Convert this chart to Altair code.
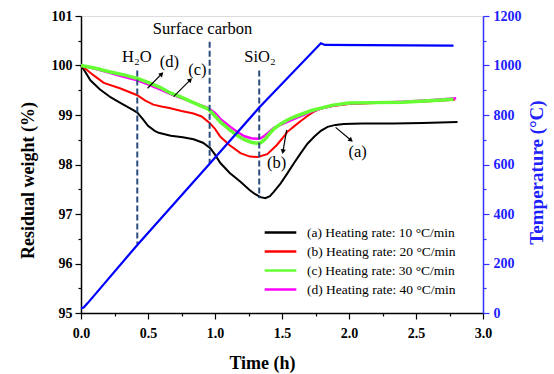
import math
import altair as alt
import pandas as pd

FONT = "Liberation Serif"

# ---------------- data ----------------
series_names = [
    "(a) Heating rate: 10 \u00b0C/min",
    "(b) Heating rate: 20 \u00b0C/min",
    "(c) Heating rate: 30 \u00b0C/min",
    "(d) Heating rate: 40 \u00b0C/min",
]
series_colors = ["#000000", "#FF0000", "#66FF33", "#FF00FF"]

t_a = [0, 0.03, 0.07, 0.14, 0.22, 0.29, 0.35, 0.39, 0.42, 0.46, 0.50, 0.55, 0.58, 0.67, 0.76,
       0.84, 0.91, 0.965, 1.00, 1.04, 1.11, 1.19, 1.26, 1.30, 1.34, 1.375, 1.41, 1.44, 1.49,
       1.54, 1.59, 1.64, 1.69, 1.74, 1.79, 1.84, 1.90, 1.96, 2.1, 2.33, 2.55, 2.81]
w_a = [100.0, 99.88, 99.70, 99.52, 99.36, 99.25, 99.16, 99.10, 99.05, 98.92, 98.78, 98.68, 98.64,
       98.58, 98.55, 98.51, 98.44, 98.33, 98.20, 98.03, 97.83, 97.65, 97.48, 97.40, 97.34, 97.32,
       97.36, 97.45, 97.62, 97.82, 98.03, 98.23, 98.42, 98.56, 98.68, 98.76, 98.80, 98.82, 98.83,
       98.83, 98.84, 98.86]

t_b = [0, 0.04, 0.09, 0.17, 0.29, 0.42, 0.48, 0.54, 0.60, 0.66, 0.75, 0.84, 0.90, 0.96, 1.00,
       1.04, 1.11, 1.19, 1.26, 1.32, 1.39, 1.46, 1.50, 1.54, 1.59, 1.64, 1.69, 1.74, 1.79, 1.88,
       2.0, 2.2, 2.4, 2.6, 2.79]
w_b = [100.0, 99.92, 99.81, 99.65, 99.54, 99.40, 99.29, 99.21, 99.17, 99.14, 99.08, 99.03, 98.97,
       98.84, 98.72, 98.56, 98.39, 98.23, 98.16, 98.15, 98.21, 98.39, 98.52, 98.66, 98.77, 98.88,
       98.98, 99.07, 99.13, 99.18, 99.22, 99.24, 99.26, 99.28, 99.31]

t_c = [0, 0.1, 0.22, 0.32, 0.42, 0.50, 0.59, 0.67, 0.74, 0.83, 0.89, 0.95, 1.00, 1.04, 1.11,
       1.17, 1.22, 1.27, 1.31, 1.34, 1.37, 1.40, 1.44, 1.49, 1.54, 1.60, 1.66, 1.72, 1.79, 1.88,
       2.0, 2.2, 2.4, 2.6, 2.78]
w_c = [100.0, 99.95, 99.87, 99.81, 99.74, 99.66, 99.56, 99.44, 99.37, 99.26, 99.19, 99.12, 98.98,
       98.86, 98.70, 98.58, 98.50, 98.45, 98.43, 98.44, 98.50, 98.60, 98.72, 98.82, 98.90, 98.97,
       99.03, 99.09, 99.14, 99.20, 99.24, 99.25, 99.26, 99.29, 99.32]

t_d = [0, 0.1, 0.22, 0.32, 0.42, 0.50, 0.59, 0.67, 0.74, 0.83, 0.89, 0.95, 1.00, 1.04, 1.11,
       1.17, 1.22, 1.27, 1.31, 1.34, 1.37, 1.40, 1.44, 1.49, 1.54, 1.60, 1.66, 1.72, 1.79, 1.88,
       2.0, 2.2, 2.4, 2.6, 2.80]
w_d = [100.0, 99.94, 99.85, 99.77, 99.70, 99.62, 99.52, 99.42, 99.35, 99.26, 99.20, 99.14, 99.04,
       98.92, 98.77, 98.65, 98.57, 98.53, 98.52, 98.53, 98.58, 98.65, 98.74, 98.80, 98.86, 98.93,
       99.00, 99.07, 99.13, 99.19, 99.23, 99.25, 99.27, 99.30, 99.34]

t_temp = [0, 0.02, 0.05, 0.42, 0.955, 1.33, 1.79, 1.82, 2.78]
temp = [20, 22, 40, 275, 600, 830, 1090, 1083, 1080]

vline_x = [0.42, 0.96, 1.33]
vline_top = [99.9, 100.48, 99.9]
vline_bottom = [96.4, 98.02, 97.32]

note_text = ["Surface carbon", "H\u2082O", "SiO\u2082", "(d)", "(c)", "(b)", "(a)"]
note_x = [0.907, 0.417, 1.336, 0.66, 0.868, 1.46, 2.065]
note_y = [100.74, 100.18, 100.18, 100.08, 99.91, 98.04, 98.26]

arrow_tail_x = [0.497, 0.691, 1.535, 1.90]
arrow_tail_y = [99.54, 99.37, 98.70, 98.75]
arrow_head_x = [0.602, 0.816, 1.507, 2.015]
arrow_head_y = [99.83, 99.71, 98.26, 98.49]

# ---------------- layout ----------------
W, H = 402, 297
X_DOM = [0, 3.0]
Y_DOM = [95, 101]
T_DOM = [0, 1200]

rows = []
for name, ts, ws in zip(series_names, [t_a, t_b, t_c, t_d], [w_a, w_b, w_c, w_d]):
    for t, w in zip(ts, ws):
        rows.append({"series": name, "t": t, "w": w})
df = pd.DataFrame(rows)

df_temp = pd.DataFrame({"t": t_temp, "temp": temp})
df_vl = pd.DataFrame({"x": vline_x, "y1": vline_top, "y2": vline_bottom})
df_note = pd.DataFrame({"label": note_text, "x": note_x, "y": note_y})

sx = W / (X_DOM[1] - X_DOM[0])
sy = H / (Y_DOM[1] - Y_DOM[0])
angles = []
for tx, ty, hx, hy in zip(arrow_tail_x, arrow_tail_y, arrow_head_x, arrow_head_y):
    dxp = (hx - tx) * sx
    dyp = -(hy - ty) * sy
    angles.append(math.degrees(math.atan2(dxp, -dyp)) % 360)
df_arrow = pd.DataFrame({"tx": arrow_tail_x, "ty": arrow_tail_y,
                         "hx": arrow_head_x, "hy": arrow_head_y, "angle": angles})

x_vals = [i * 0.25 for i in range(13)]
y_vals = [95 + i * 0.5 for i in range(13)]
t_vals = [i * 100 for i in range(13)]

x_axis = alt.Axis(
    values=x_vals, title="Time (h)", grid=False, labelFlush=False,
    labelExpr="abs(datum.value*2 - round(datum.value*2)) < 1e-6 ? format(datum.value, '.1f') : ''",
    tickSize={"condition": {"test": "abs(datum.value*2 - round(datum.value*2)) < 1e-6", "value": 6}, "value": 3},
    labelFont=FONT, labelFontSize=14, labelFontWeight="bold", labelColor="black", labelPadding=7,
    titleFont=FONT, titleFontSize=18, titleFontWeight="bold", titleColor="black", titlePadding=14,
    titleX=181,
    domainColor="black", tickColor="black", domainWidth=1.5, tickWidth=1.2,
)
y_axis = alt.Axis(
    values=y_vals, title="Residual weight (%)", grid=False, labelFlush=False,
    labelExpr="abs(datum.value - round(datum.value)) < 1e-6 ? format(datum.value, 'd') : ''",
    tickSize={"condition": {"test": "abs(datum.value - round(datum.value)) < 1e-6", "value": 6}, "value": 3},
    labelFont=FONT, labelFontSize=14, labelFontWeight="bold", labelColor="black", labelPadding=3,
    titleFont=FONT, titleFontSize=18, titleFontWeight="bold", titleColor="black", titlePadding=14,
    titleY=164,
    domainColor="black", tickColor="black", domainWidth=1.5, tickWidth=1.2,
)
t_axis = alt.Axis(
    values=t_vals, title="Temperature (\u00b0C)", orient="right", grid=False, labelFlush=False,
    labelExpr="datum.value % 200 === 0 ? format(datum.value, 'd') : ''",
    tickSize={"condition": {"test": "datum.value % 200 === 0", "value": 6}, "value": 3},
    labelFont=FONT, labelFontSize=14, labelFontWeight="bold", labelColor="#2020FF", labelPadding=4,
    titleFont=FONT, titleFontSize=19, titleFontWeight="bold", titleColor="#2020FF", titlePadding=6,
    titleAngle=270, titleBaseline="top", titleY=156,
    domainColor="#3333FF", tickColor="#3333FF", domainWidth=1.5, tickWidth=1.2,
)

xs = alt.Scale(domain=X_DOM, nice=False, zero=False)
ys = alt.Scale(domain=Y_DOM, nice=False, zero=False)
ts_ = alt.Scale(domain=T_DOM, nice=False, zero=False)
color_scale = alt.Scale(domain=series_names, range=series_colors)
legend = alt.Legend(
    title=None, orient="none", legendX=182, legendY=208, symbolType="stroke",
    symbolSize=1000, symbolStrokeWidth=2.5, labelFont=FONT, labelFontSize=13.5,
    labelColor="black", rowPadding=2, clipHeight=17, labelOffset=9,
)

X = alt.X("t:Q", scale=xs, axis=x_axis)

widths = {series_names[0]: 2, series_names[1]: 2, series_names[3]: 2.5, series_names[2]: 3.5}
draw_order = [series_names[0], series_names[1], series_names[3], series_names[2]]

layers = []
for i, name in enumerate(draw_order):
    layers.append(
        alt.Chart(df).transform_filter(alt.datum.series == name)
        .mark_line(strokeWidth=widths[name])
        .encode(
            x=X,
            y=alt.Y("w:Q", scale=ys, axis=y_axis),
            color=alt.Color("series:N", scale=color_scale, legend=legend),
        )
    )

vlines = alt.Chart(df_vl).mark_rule(color="#2B4C7E", strokeWidth=2, strokeDash=[6, 3]).encode(
    x=alt.X("x:Q", scale=xs, axis=x_axis),
    y=alt.Y("y1:Q", scale=ys, axis=y_axis), y2="y2:Q")

notes = alt.Chart(df_note).mark_text(font=FONT, fontSize=16.5, color="black", baseline="middle").encode(
    x=alt.X("x:Q", scale=xs, axis=x_axis), y=alt.Y("y:Q", scale=ys, axis=y_axis), text="label:N")

arrow_lines = alt.Chart(df_arrow).mark_rule(color="black", strokeWidth=1.2).encode(
    x=alt.X("tx:Q", scale=xs, axis=x_axis), y=alt.Y("ty:Q", scale=ys, axis=y_axis),
    x2="hx:Q", y2="hy:Q")
arrow_heads = alt.Chart(df_arrow).mark_point(shape="triangle-up", filled=True, size=28,
                                              color="black", opacity=1).encode(
    x=alt.X("hx:Q", scale=xs, axis=x_axis), y=alt.Y("hy:Q", scale=ys, axis=y_axis),
    angle=alt.Angle("angle:Q", scale=None))

left = alt.layer(*layers, vlines, arrow_lines, arrow_heads, notes)

temp_line = alt.Chart(df_temp).mark_line(color="#0000FF", strokeWidth=2.2).encode(
    x=X,
    y=alt.Y("temp:Q", scale=ts_, axis=t_axis))

chart = alt.layer(left, temp_line).resolve_scale(y="independent").properties(
    width=W, height=H,
    padding={"left": 81, "top": 16, "right": 71, "bottom": 61},
    autosize=alt.AutoSizeParams(type="none"),
).configure_view(stroke="black", strokeWidth=1.5).configure(background="white")

chart.save("out.html", embed_options={"renderer": "svg", "actions": False})
